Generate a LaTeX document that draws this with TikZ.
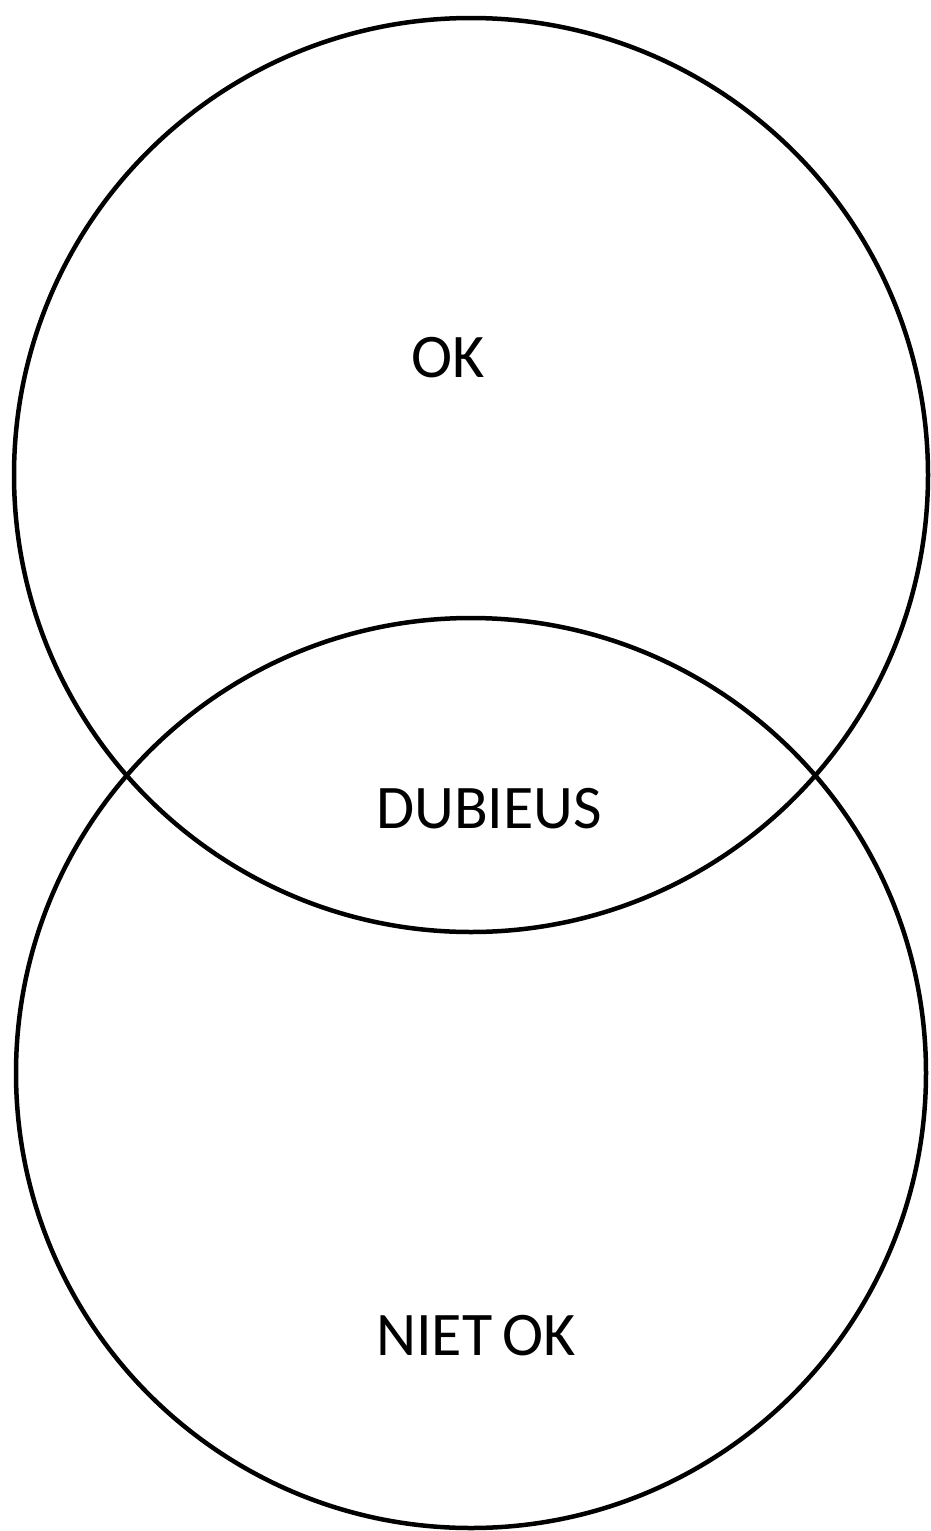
\documentclass[tikz,border=0pt]{standalone}
\usepackage{fontspec}
\setmainfont{Carlito}
\begin{document}
\begin{tikzpicture}[x=1pt,y=-1pt,
  venn/.style={circle,draw=black,line width=4.5pt,minimum size=#1,inner sep=0pt},
  lbl/.style={font=\fontsize{62}{64}\selectfont,inner sep=0pt,anchor=base}]
\useasboundingbox (0,0) rectangle (931,1531);
\node[venn=914pt] (top) at (471,475) {};
\node[venn=910pt] (bot) at (471,1073) {};
\node[lbl] (ok) at (448,377) {OK};
\node[lbl] (dub) at (489,828) {DUBIEUS};
\node[lbl] (niet) at (476,1355) {NIET\,OK};
\end{tikzpicture}
\end{document}
